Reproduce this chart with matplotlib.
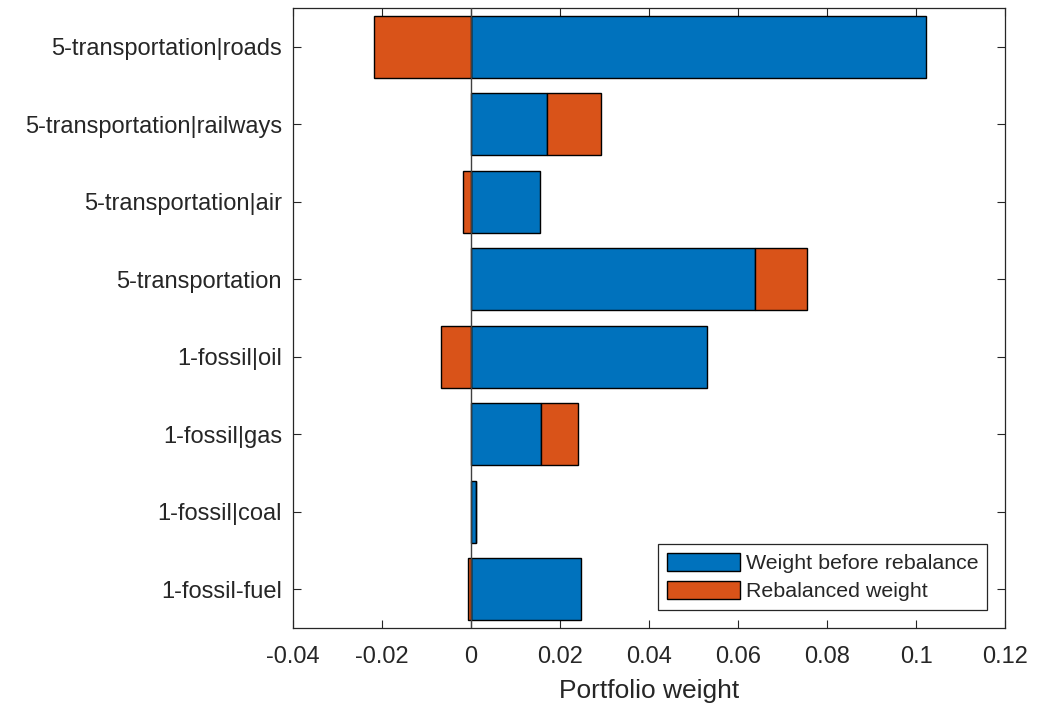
"""Portfolio weights before and after rebalance, stacked horizontal bars."""

import numpy as np
import matplotlib.pyplot as plt

plt.rcParams['font.family'] = ['Liberation Sans', 'DejaVu Sans']

# Categories, top to bottom
categories = ['5-transportation|roads', '5-transportation|railways',
              '5-transportation|air', '5-transportation',
              '1-fossil|oil', '1-fossil|gas', '1-fossil|coal',
              '1-fossil-fuel']

# Series values
weight_before = [0.1022, 0.0171, 0.0155, 0.0638, 0.0530, 0.0157, 0.0010, 0.0247]
rebalanced = [-0.0218, 0.0121, -0.0018, 0.0117, -0.0067, 0.0083, 0.0, -0.0007]

xticks = [-0.04, -0.02, 0, 0.02, 0.04, 0.06, 0.08, 0.1, 0.12]
xtick_labels = ['-0.04', '-0.02', '0', '0.02', '0.04', '0.06', '0.08', '0.1', '0.12']

blue = '#0072BD'
orange = '#D95319'
axcol = '#262626'

#############
# The chart #
#############
fig = plt.figure(figsize=(10.43, 7.04), dpi=100)
ax = fig.add_axes([0.281, 0.108, 0.6827, 0.8806])

y = np.arange(1, len(categories) + 1)
before = np.array(weight_before)
reb = np.array(rebalanced)

# stack like MATLAB: positives on positives, negatives from zero
pos_base = np.where(before > 0, before, 0)
left_reb = np.where(reb >= 0, pos_base, 0)

ax.barh(y, before, height=0.8, color=blue, edgecolor='black',
        linewidth=1, label='Weight before rebalance', zorder=2)
ax.barh(y, reb, left=left_reb, height=0.8, color=orange, edgecolor='black',
        linewidth=1, label='Rebalanced weight', zorder=2)

# baseline at zero
ax.axvline(0, color='#404040', linewidth=1, zorder=3)

ax.set_ylim(8.5, 0.5)
ax.set_xlim(-0.04, 0.12)
ax.set_yticks(y)
ax.set_yticklabels(categories)
ax.set_xticks(xticks)
ax.set_xticklabels(xtick_labels)

ax.tick_params(direction='in', length=6, width=0.8, colors=axcol,
               labelsize=17, top=True, right=True)
ax.tick_params(axis='x', pad=13)
ax.tick_params(axis='y', pad=8)
for s in ax.spines.values():
    s.set_color(axcol)
    s.set_linewidth(0.9)

ax.set_xlabel('Portfolio weight', fontsize=19, color=axcol, labelpad=8)

leg = ax.legend(loc='lower right', bbox_to_anchor=(0.9747, 0.029),
                borderaxespad=0, fontsize=15.4, handlelength=3.4,
                handleheight=0.95, handletextpad=0.3, labelspacing=0.35,
                borderpad=0.4, fancybox=False, framealpha=1)
leg.get_frame().set_edgecolor(axcol)
leg.get_frame().set_linewidth(0.9)
for t in leg.get_texts():
    t.set_color(axcol)

plt.savefig('out.png', dpi=100)
